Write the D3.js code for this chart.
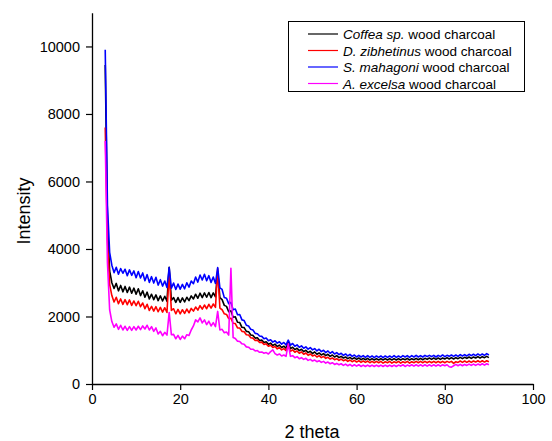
<!DOCTYPE html>
<html>
<head>
<meta charset="utf-8">
<script src="https://cdn.jsdelivr.net/npm/d3@7"></script>
<style>
  body { margin: 0; background: #fff; }
  svg { display: block; font-family: "Liberation Sans", Arial, sans-serif; }
</style>
</head>
<body>
<svg id="chart" width="552" height="441"></svg>
<script>
// 2 theta grid, 3 to 90 deg, every 0.5 deg
var twoTheta = d3.range(3, 90.001, 0.5);

var coffea = [
  9450,4800,3350,3000,2830,2980,2760,2920,2730,2890,
  2710,2870,2690,2840,2660,2820,2620,2760,2570,2720,
  2520,2660,2500,2640,2470,2610,2460,2600,2450,3460,
  2480,2560,2420,2560,2420,2550,2430,2570,2470,2610,
  2520,2660,2540,2690,2560,2700,2570,2710,2560,2700,
  2580,3330,2560,2500,2330,2300,2140,2170,1980,1990,
  1830,1820,1680,1670,1560,1550,1450,1440,1360,1370,
  1290,1300,1230,1250,1180,1210,1140,1180,1110,1150,
  1080,1120,1060,1240,1050,1090,1020,1060,990,1030,
  960,1000,930,970,900,950,880,920,860,900,
  840,880,820,860,800,840,780,820,770,800,
  750,790,740,780,730,770,720,760,720,760,
  710,750,710,750,710,750,710,750,710,750,
  710,750,710,750,710,750,720,760,710,750,
  720,760,720,760,720,760,730,770,730,770,
  730,770,730,770,740,780,740,780,740,780,
  750,790,750,790,760,800,760,800,770,810,
  770,810,780,820,780
];

var zibethinus = [
  7600,4300,2950,2620,2430,2570,2380,2520,2360,2500,
  2350,2490,2330,2460,2320,2450,2290,2400,2230,2360,
  2180,2300,2160,2290,2140,2270,2130,2260,2120,3300,
  2180,2230,2080,2210,2080,2200,2090,2220,2110,2240,
  2160,2280,2190,2320,2220,2340,2230,2360,2250,2370,
  2270,3420,2250,2200,2080,2060,1940,1950,1800,1790,
  1660,1660,1560,1550,1460,1450,1370,1360,1290,1300,
  1230,1240,1170,1190,1120,1150,1080,1110,1040,1080,
  1010,1050,990,1140,970,1010,940,980,910,950,
  880,920,850,890,830,860,800,840,780,820,
  760,790,740,770,720,750,700,740,690,720,
  670,710,660,700,650,690,640,680,640,680,
  630,670,630,670,630,670,620,660,630,670,
  620,660,630,670,620,660,630,670,620,660,
  630,670,630,670,630,670,630,670,630,670,
  630,670,630,670,630,670,640,670,610,660,
  640,680,640,680,640,680,640,680,650,690,
  650,690,650,690,660
];

var mahagoni = [
  9900,5300,3900,3520,3300,3460,3250,3420,3280,3400,
  3210,3380,3220,3350,3150,3330,3140,3290,3060,3240,
  3010,3180,2990,3160,2930,3090,2900,3050,2860,3450,
  2840,2990,2800,2960,2810,2950,2820,3000,2870,3050,
  2970,3170,3020,3230,3080,3250,3060,3210,3010,3170,
  2980,3450,2850,2800,2560,2540,2380,2420,2200,2220,
  2050,2060,1900,1880,1740,1720,1620,1600,1500,1490,
  1420,1410,1340,1360,1280,1310,1240,1280,1210,1250,
  1180,1230,1160,1300,1150,1200,1120,1160,1090,1130,
  1060,1100,1030,1080,1010,1050,980,1030,960,1000,
  930,980,910,960,890,930,870,910,850,890,
  830,880,820,860,800,850,800,840,790,840,
  790,830,780,830,790,830,780,830,790,830,
  790,840,790,830,790,840,800,840,790,840,
  800,850,800,840,800,850,810,850,810,850,
  800,850,810,860,810,850,820,860,820,860,
  820,870,830,870,830,880,840,880,840,890,
  850,890,850,900,860
];

var excelsa = [
  7200,3600,2200,1850,1680,1780,1620,1740,1600,1710,
  1590,1700,1590,1700,1600,1710,1610,1720,1630,1740,
  1600,1700,1560,1660,1480,1560,1430,1530,1450,2120,
  1460,1470,1340,1440,1320,1420,1340,1460,1440,1600,
  1720,1900,1840,1960,1810,1900,1760,1860,1720,1820,
  1700,2150,1600,1620,1520,1540,1450,3430,1380,1350,
  1270,1260,1190,1180,1100,1090,1030,1030,980,990,
  940,950,910,930,890,960,1010,900,860,890,
  830,860,820,1190,820,840,780,810,750,780,
  730,760,700,730,680,710,660,690,640,670,
  620,650,600,630,580,610,570,600,550,590,
  540,580,530,570,530,570,520,560,520,560,
  520,560,520,560,520,560,520,560,520,560,
  520,560,520,560,530,570,520,560,530,570,
  530,570,530,570,530,570,530,570,530,570,
  530,570,530,570,540,570,510,500,540,580,
  540,580,540,580,550,590,550,590,550,590,
  560,600,560,600,570
];

var seriesNames = [
  ['Coffea sp.', ' wood charcoal'],
  ['D. zibhetinus', ' wood charcoal'],
  ['S. mahagoni', ' wood charcoal'],
  ['A. excelsa', ' wood charcoal']
];
var seriesColors = ['#000000', '#ff0000', '#0000ff', '#ff00ff'];
var seriesData = [coffea, zibethinus, mahagoni, excelsa];

var xMajor = [0, 20, 40, 60, 80, 100];
var xMinor = [10, 30, 50, 70, 90];
var yMajor = [0, 2000, 4000, 6000, 8000, 10000];
var yMinor = [1000, 3000, 5000, 7000, 9000];

var svg = d3.select('#chart');

var x = d3.scaleLinear().domain([0, 100]).range([92, 533]);
var y = d3.scaleLinear().domain([0, 11000]).range([384, 12.7]);

// lines
var line = d3.line()
  .x(function(d){ return x(d[0]) })
  .y(function(d){ return y(d[1]) });

seriesData.forEach(function(vals, i){
  var pts = twoTheta.map(function(t, j){ return [t, vals[j]] });
  svg.append('path')
    .datum(pts)
    .attr('d', line)
    .style('fill', 'none')
    .style('stroke', seriesColors[i])
    .style('stroke-width', 1.6)
    .style('stroke-linejoin', 'round');
});

// axes
var gx = svg.append('g').attr('transform', 'translate(0,384)');
gx.call(d3.axisBottom(x).tickValues(xMinor).tickSize(3).tickSizeOuter(0).tickFormat(''));
gx.call(d3.axisBottom(x).tickValues(xMajor).tickSize(6).tickSizeOuter(0).tickPadding(4));

var gy = svg.append('g').attr('transform', 'translate(92,0)');
gy.call(d3.axisLeft(y).tickValues(yMinor).tickSize(3).tickSizeOuter(0).tickFormat(''));
gy.call(d3.axisLeft(y).tickValues(yMajor).tickSize(6).tickSizeOuter(0).tickPadding(6).tickFormat(d3.format('d')));

svg.selectAll('.domain').style('stroke', '#000').style('stroke-width', 1.3);
svg.selectAll('.tick line').style('stroke', '#000').style('stroke-width', 1.2);
svg.selectAll('.tick text')
  .style('font-family', '"Liberation Sans", Arial, sans-serif')
  .style('font-size', '14.5px')
  .style('fill', '#000');

// axis titles
svg.append('text')
  .attr('x', 312).attr('y', 438)
  .attr('text-anchor', 'middle')
  .style('font-size', '18px')
  .text('2 theta');

svg.append('text')
  .attr('transform', 'translate(30,211) rotate(-90)')
  .attr('text-anchor', 'middle')
  .style('font-size', '18px')
  .text('Intensity');

// legend
var legend = svg.append('g');
legend.append('rect')
  .attr('x', 288.5).attr('y', 21.5)
  .attr('width', 236).attr('height', 70)
  .style('fill', '#fff')
  .style('stroke', '#000')
  .style('stroke-width', 1);

seriesNames.forEach(function(n, i){
  var ly = 34 + i * 16.5;
  legend.append('line')
    .attr('x1', 308).attr('x2', 338)
    .attr('y1', ly).attr('y2', ly)
    .style('stroke', seriesColors[i])
    .style('stroke-width', 1.2);
  var t = legend.append('text')
    .attr('x', 343).attr('y', ly + 5)
    .style('font-size', '13.5px');
  t.append('tspan').style('font-style', 'italic').text(n[0]);
  t.append('tspan').text(n[1]);
});
</script>
</body>
</html>
